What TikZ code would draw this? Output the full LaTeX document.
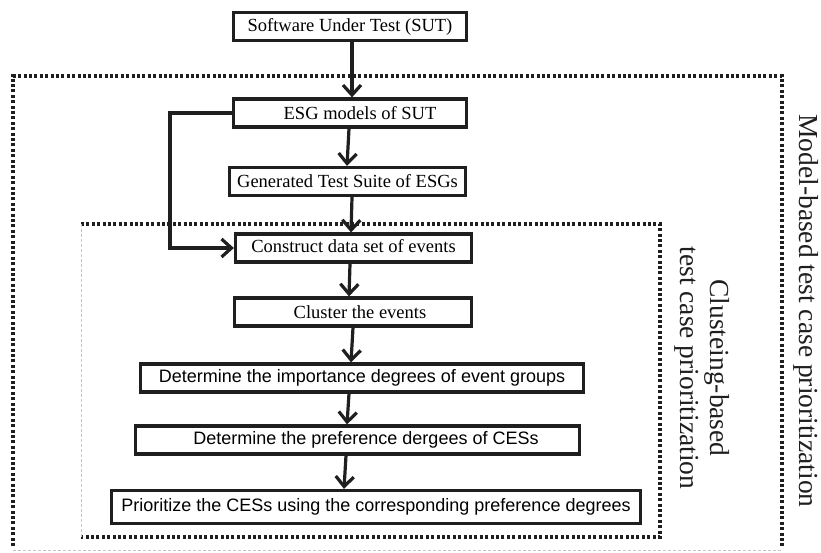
\documentclass[tikz,border=0pt]{standalone}
\usepackage{fontspec}
\setmainfont{Liberation Serif}
\setsansfont{Liberation Sans}
\usetikzlibrary{arrows.meta}

\begin{document}
\begin{tikzpicture}[x=1pt,y=-1pt,
  procbox/.style={draw=black!88, line width=3.2pt, minimum height=28pt, inner sep=0pt,
    font=\fontsize{18.5}{20}\selectfont},
  sansbox/.style={procbox, font=\sffamily\fontsize{18}{20}\selectfont},
  flow/.style={-{Straight Barb[length=10pt,width=18pt]}, line width=3.2pt, draw=black!88},
  regionline/.style={line width=3.2pt, draw=black!88, dash pattern=on 3pt off 2.4pt},
  faintline/.style={draw=gray!45, line width=1pt, dash pattern=on 3pt off 2pt},
  sidetext/.style={rotate=-90, align=center, text=black!88,
    font=\fontsize{27.5}{30}\selectfont}]
\useasboundingbox (0,0) rectangle (821,552);

% Frames
\draw[regionline] (13,546) -- (13,76) -- (782,76) -- (782,546);
\draw[faintline] (13,550) -- (782,550);
\draw[regionline] (81,224) -- (660,224) -- (660,537) -- (81,537);
\draw[faintline] (81,224) -- (81,537);

% Steps
\node[procbox, minimum width=233pt] (sut) at (350,26.5) {Software Under Test (SUT)};
\node[procbox, minimum width=233pt] (esg) at (350,113) {\hspace*{20pt}ESG models of SUT};
\node[procbox, minimum width=236pt] (gen) at (347.5,181.5) {Generated Test Suite of ESGs};
\node[procbox, minimum width=236pt] (cons) at (353.5,248) {\raisebox{4pt}{Construct data set of events}};
\node[procbox, minimum width=237pt] (clus) at (353,312) {\hspace*{14pt}Cluster the events};
\node[sansbox, minimum width=443pt] (imp) at (362,378) {Determine the importance degrees of event groups};
\node[sansbox, minimum width=444pt] (pref) at (357.5,440) {\hspace*{17pt}Determine the preference dergees of CESs};
\node[sansbox, minimum width=529pt, minimum height=33pt] (prio) at (376,507) {Prioritize the CESs using the corresponding preference degrees};

% Flow
\draw[flow] ([xshift=2pt]sut.south) -- ([xshift=2pt]esg.north);
\draw[flow] ([xshift=-1pt]esg.south) -- ([xshift=-0.5pt]gen.north);
\draw[flow] ([xshift=4.5pt]gen.south) -- ([xshift=-2.5pt]cons.north);
\draw[flow] ([xshift=-3.5pt]cons.south) -- ([xshift=-4pt]clus.north);
\draw[flow] (clus.south) -- ([xshift=-11pt]imp.north);
\draw[flow] ([xshift=-13pt]imp.south) -- ([xshift=-10.5pt]pref.north);
\draw[flow] ([xshift=-11.5pt]pref.south) -- ([xshift=-32pt]prio.north);
\coordinate (loop) at (170,0);
\draw[flow] (esg.west) -- (esg.west -| loop) |- (cons.west);

% Labels
\node[sidetext] (mbt) at (806,311) {Model-based test case prioritization};
\node[sidetext] (cbt) at (702,368) {Clusteing-based\\test case prioritization};
\end{tikzpicture}
\end{document}
